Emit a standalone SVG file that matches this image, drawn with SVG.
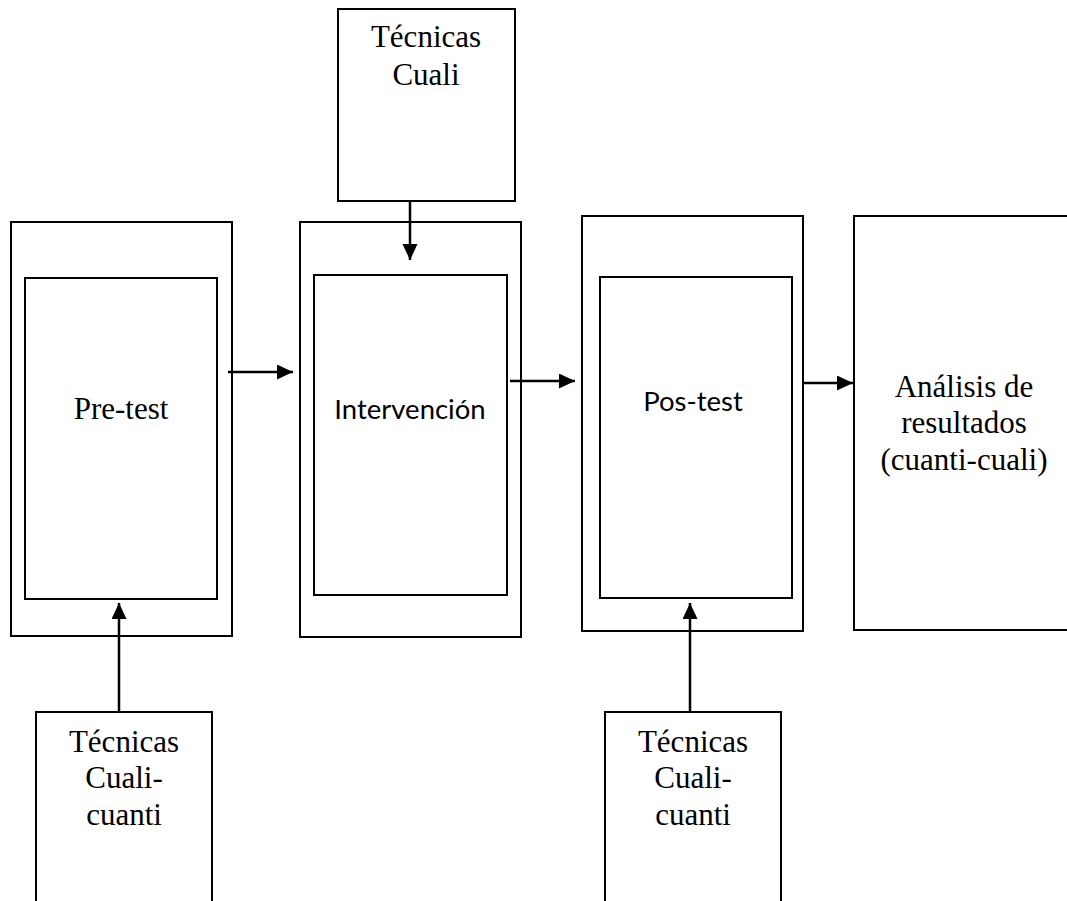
<svg xmlns="http://www.w3.org/2000/svg" width="1067" height="901" viewBox="0 0 1067 901">
<style>
.box{fill:#fff;stroke:#000;stroke-width:2}
.serif{font-family:"Liberation Serif","Times New Roman",serif;font-size:31px;fill:#000;text-anchor:middle}
.sans{font-family:Lato,"Liberation Sans",sans-serif;font-size:27.5px;fill:#000;text-anchor:middle}
.conn{stroke:#000;stroke-width:2.5;fill:none;marker-end:url(#ah)}
</style>
<defs>
<marker id="ah" markerUnits="userSpaceOnUse" markerWidth="17" markerHeight="17" refX="16" refY="7.5" orient="auto">
<path d="M0,0 L16,7.5 L0,15 Z" fill="#000"/>
</marker>
</defs>
<rect width="1067" height="901" fill="#fff"/>
<g id="pretest">
<rect class="box" x="11" y="222" width="221" height="414"/>
<rect class="box" x="25" y="278" width="192" height="321"/>
<text class="serif" x="121" y="419">Pre-test</text>
</g>
<g id="intervencion">
<rect class="box" x="300" y="222" width="221" height="415"/>
<rect class="box" x="314" y="275" width="193" height="320"/>
<text class="sans" x="410" y="419">Intervención</text>
</g>
<g id="postest">
<rect class="box" x="582" y="216" width="221" height="415"/>
<rect class="box" x="600" y="277" width="192" height="321"/>
<text class="sans" x="693" y="411">Pos-test</text>
</g>
<g id="analisis">
<rect class="box" x="854" y="216" width="230" height="414"/>
<text class="serif" x="964" y="397">Análisis de</text>
<text class="serif" x="964" y="433">resultados</text>
<text class="serif" x="964" y="470">(cuanti-cuali)</text>
</g>
<g id="tecnicas-cuali">
<rect class="box" x="338" y="9" width="177" height="192"/>
<text class="serif" x="426" y="47">Técnicas</text>
<text class="serif" x="426" y="85">Cuali</text>
</g>
<g id="tecnicas-cc-1">
<rect class="box" x="36" y="712" width="176" height="200"/>
<text class="serif" x="124" y="752">Técnicas</text>
<text class="serif" x="124" y="788">Cuali-</text>
<text class="serif" x="124" y="825">cuanti</text>
</g>
<g id="tecnicas-cc-2">
<rect class="box" x="605" y="712" width="176" height="200"/>
<text class="serif" x="693" y="752">Técnicas</text>
<text class="serif" x="693" y="788">Cuali-</text>
<text class="serif" x="693" y="825">cuanti</text>
</g>
<g id="connectors">
<line class="conn" x1="228" y1="372" x2="293" y2="372"/>
<line class="conn" x1="510" y1="381" x2="575" y2="381"/>
<line class="conn" x1="803" y1="383" x2="853" y2="383"/>
<line class="conn" x1="410" y1="201" x2="410" y2="260"/>
<line class="conn" x1="119" y1="712" x2="119" y2="603"/>
<line class="conn" x1="690" y1="712" x2="690" y2="603"/>
</g>
</svg>
